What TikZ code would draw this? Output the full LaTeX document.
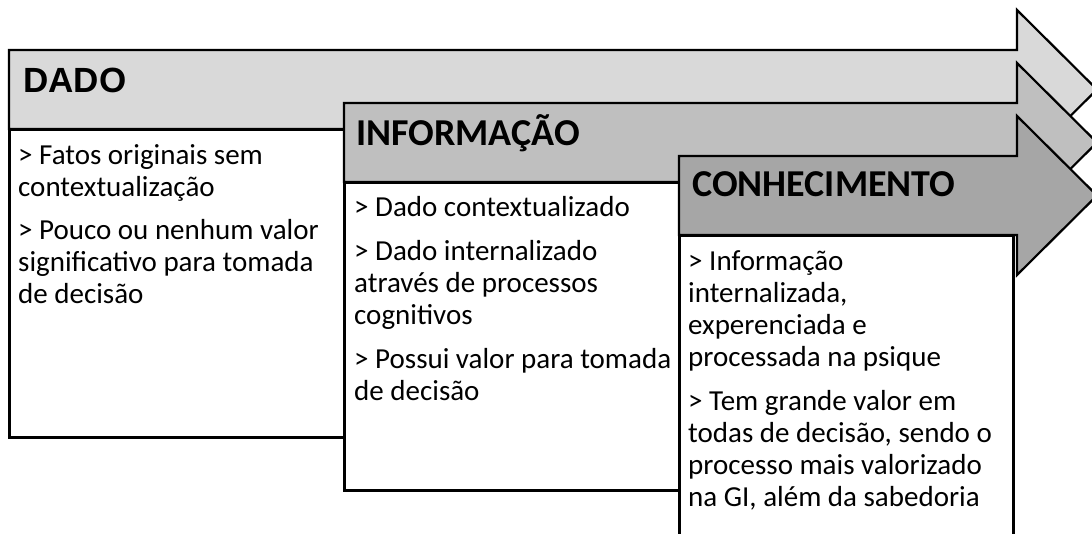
\documentclass[tikz,border=0pt]{standalone}
\usepackage{fontspec}
\setmainfont{Carlito}
\newfontfamily\arialfont{Liberation Sans}
\definecolor{fillA}{HTML}{D9D9D9}
\definecolor{fillB}{HTML}{BFBFBF}
\definecolor{fillC}{HTML}{A6A6A6}
\tikzset{
  bodybox/.style={draw=black, fill=white, line width=3pt},
  arrowshape/.style={draw=black, line width=2.2pt, line join=miter},
  headtext/.style={anchor=base west, inner sep=0pt, font=\fontsize{38}{44}\selectfont\bfseries},
  bodytext/.style={anchor=north west, inner sep=0pt, align=left, font=\fontsize{29}{32}\selectfont},
}
\begin{document}
\begin{tikzpicture}[x=1pt,y=-1pt]
\useasboundingbox (0,0) rectangle (1092,533);
\clip (0,0) rectangle (1092,533);
% ---- stage 1: DADO
\draw[bodybox] (9,129) rectangle (344,437);
\draw[arrowshape, fill=fillA] (9,50) -- (1017,50) -- (1017,10) -- (1097,89.5) -- (1017,169) -- (1017,129) -- (9,129) -- cycle;
\node[headtext, font=\arialfont\fontsize{35}{42}\selectfont\bfseries] (dado) at (23,92.5) {DADO};
\node[bodytext] (dadobody) at (18,139) {\rule{0pt}{25pt}> Fatos originais sem\\contextualização\\[11pt]> Pouco ou nenhum valor\\significativo para tomada\\de decisão};
% ---- stage 2: INFORMACAO
\draw[bodybox] (344,182) rectangle (679,490);
\draw[arrowshape, fill=fillB] (344,103) -- (1017,103) -- (1017,63) -- (1097,142.5) -- (1017,222) -- (1017,182) -- (344,182) -- cycle;
\node[headtext] (info) at (356,145) {INFORMAÇÃO};
\node[bodytext] (infobody) at (354,191) {\rule{0pt}{25pt}> Dado contextualizado\\[12pt]> Dado internalizado\\através de processos\\cognitivos\\[12pt]> Possui valor para tomada\\de decisão};
% ---- stage 3: CONHECIMENTO
\draw[bodybox] (679,235) rectangle (1013,545);
\draw[arrowshape, fill=fillC] (679,156) -- (1017,156) -- (1017,116) -- (1097,195.5) -- (1017,275) -- (1017,235) -- (679,235) -- cycle;
\node[headtext] (conh) at (692,196) {CONHECIMENTO};
\node[bodytext] (conhbody) at (688,245) {\rule{0pt}{25pt}> Informação\\internalizada,\\experenciada e\\processada na psique\\[12pt]> Tem grande valor em\\todas de decisão, sendo o\\processo mais valorizado\\na GI, além da sabedoria};
\end{tikzpicture}
\end{document}
